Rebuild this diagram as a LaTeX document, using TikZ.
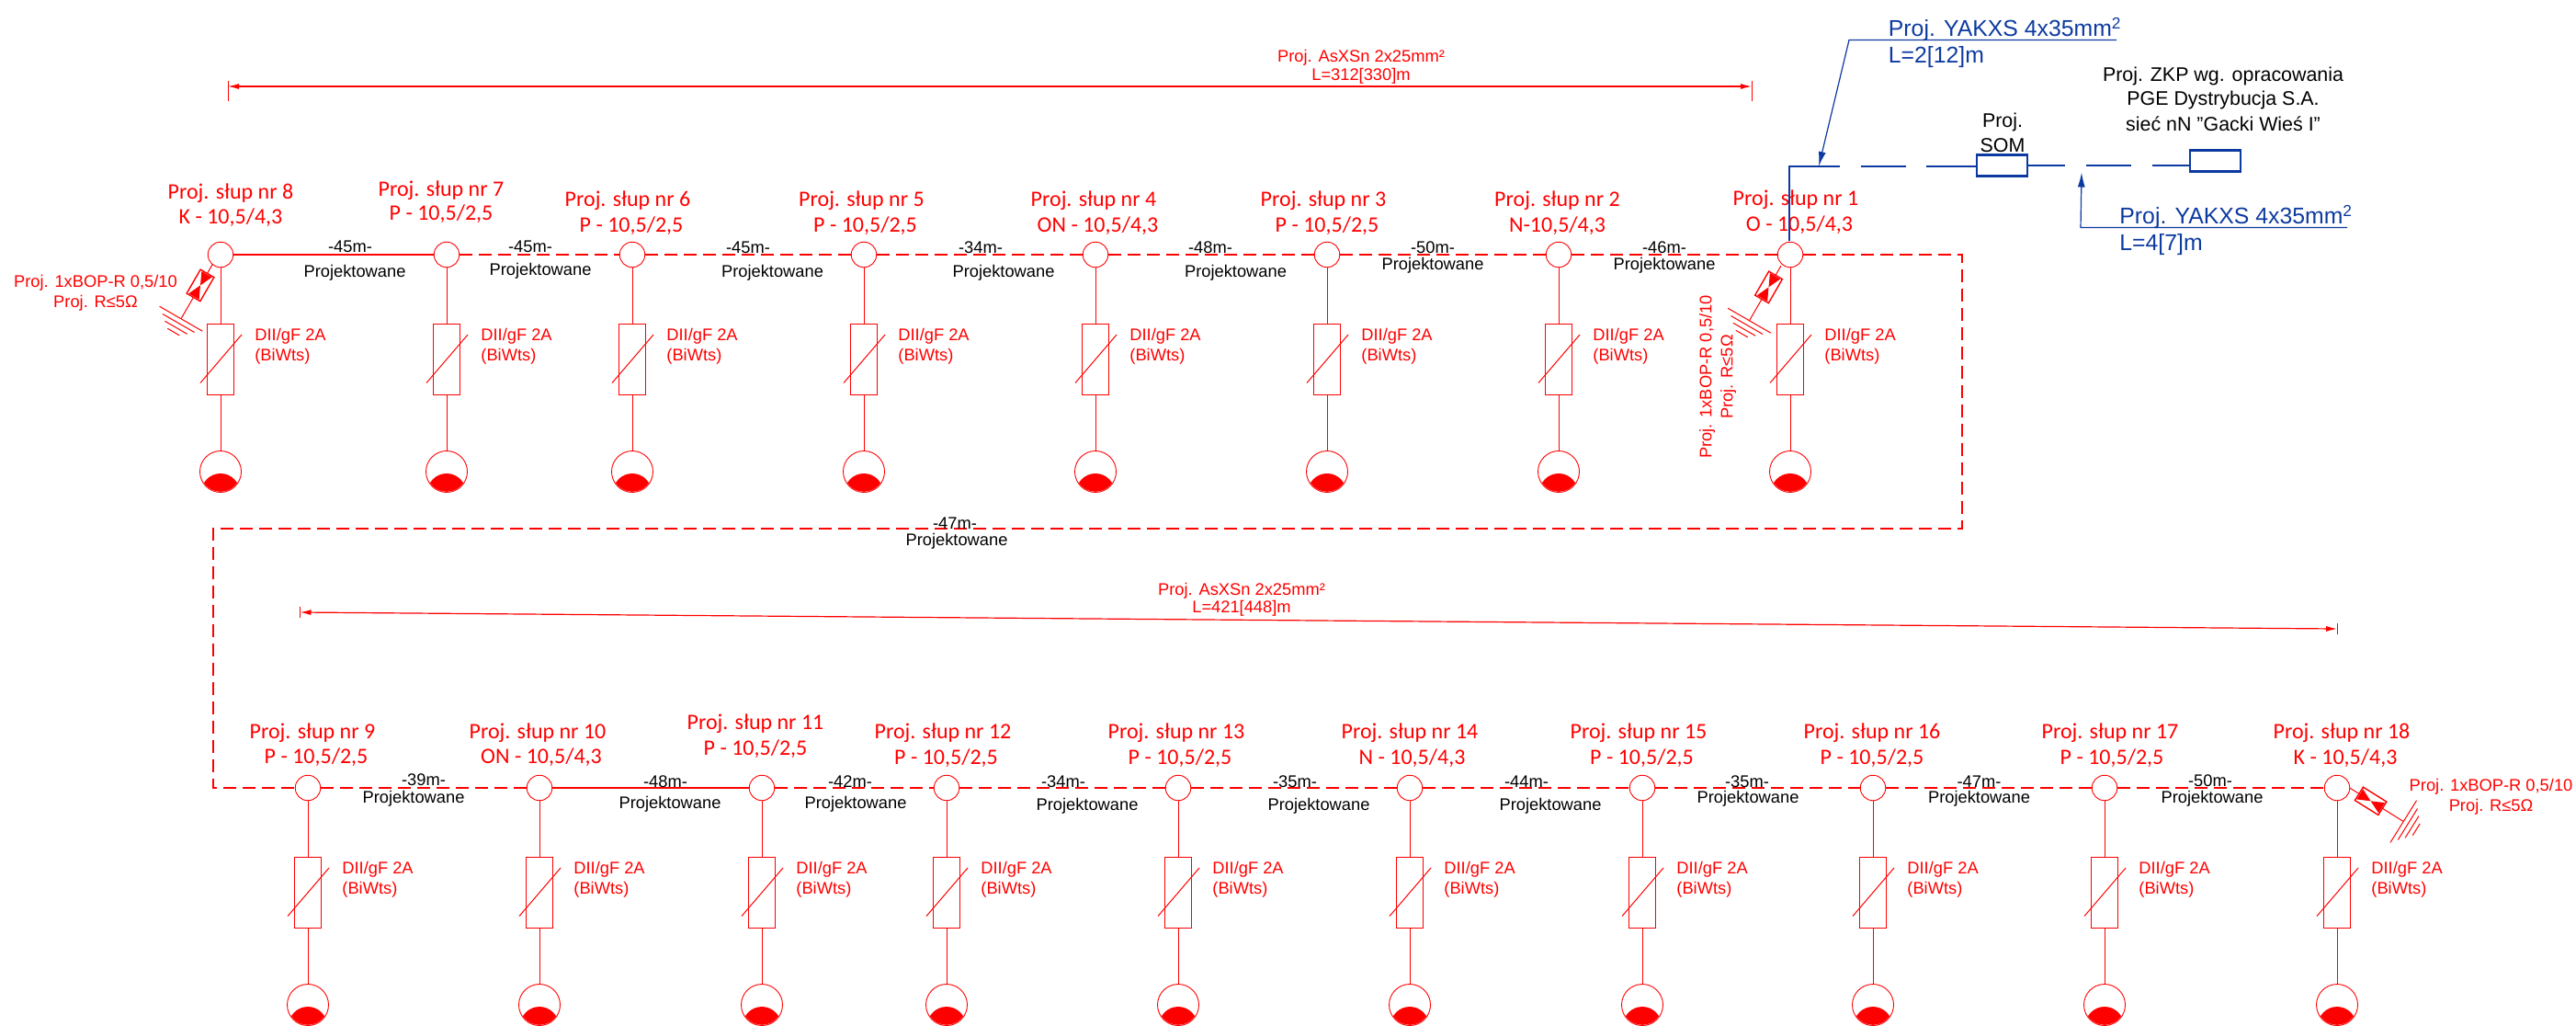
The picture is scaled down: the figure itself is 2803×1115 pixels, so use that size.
\documentclass[tikz,border=0pt]{standalone}
\usepackage{fontspec}
\setmainfont{Liberation Sans}
\newfontfamily\calibfont{Carlito}
\usetikzlibrary{arrows.meta}
\definecolor{bl}{HTML}{0D3AA0}
\definecolor{rd}{HTML}{FF0000}
\tikzset{
  thinred/.style={draw=rd,line width=0.5pt},
  thickred/.style={draw=rd,line width=1.15pt},
  route/.style={draw=rd,line width=1.15pt,dash pattern=on 7pt off 3.5pt},
  polecirc/.style={circle,draw=rd,line width=0.45pt,minimum size=13.75pt,inner sep=0pt,outer sep=0pt},
  lampcirc/.style={circle,draw=rd,line width=0.45pt,minimum size=22.5pt,inner sep=0pt,outer sep=0pt},
  fusebox/.style={rectangle,draw=rd,line width=0.5pt,minimum width=14.25pt,minimum height=38.5pt,inner sep=0pt,outer sep=0pt},
  polelab/.style={text=rd,inner sep=0pt,font=\calibfont\fontsize{12}{14}\selectfont},
  redlab/.style={text=rd,inner sep=0pt,font=\fontsize{9.15}{11}\selectfont},
  fuselab/.style={text=rd,inner sep=0pt,anchor=west,font=\fontsize{9.15}{11}\selectfont},
  spanlab/.style={text=black,inner sep=0pt,font=\fontsize{9.15}{11}\selectfont},
  blacklab/.style={text=black,inner sep=0pt,font=\fontsize{10.7}{13}\selectfont},
  bluelab/.style={text=bl,inner sep=0pt,anchor=west,font=\fontsize{12.4}{15}\selectfont},
  dimlab/.style={text=rd,inner sep=0pt,font=\fontsize{9.15}{11}\selectfont},
  blueline/.style={draw=bl,line width=1.25pt},
  blueleader/.style={draw=bl,line width=0.6pt,-{Latex[length=8pt,width=4pt]}},
  bluebox/.style={rectangle,draw=bl,line width=1.25pt,inner sep=0pt,outer sep=0pt,minimum width=27.5pt,minimum height=11.5pt},
  dimline/.style={draw=rd,line width=0.6pt,{Latex[length=6pt,width=3pt]}-{Latex[length=6pt,width=3pt]}},
}
% #1 number, #2 x, #3 y
\newcommand{\poleset}[3]{%
  \node[polecirc] (p#1) at (#2,#3) {};
  \node[fusebox] (f#1) at (#2,#3+113.5) {};
  \node[lampcirc] (l#1) at (#2,#3+236) {};
  \draw[thinred] (p#1) -- (f#1);
  \draw[thinred] (f#1) -- (l#1);
  \draw[thinred] (#2-22,#3+139.5) -- (#2+23,#3+87);
  \begin{scope}
    \clip (#2,#3+236) circle (10.9pt);
    \fill[rd] (#2,#3+259) circle (10.5pt);
  \end{scope}
  \node[fuselab] (dt#1) at (#2+37,#3+89) {DII/gF 2A};
  \node[fuselab] (db#1) at (#2+37,#3+110.5) {(BiWts)};
}
% #1 name, #2 x, #3 y, #4 rotation
\newcommand{\bopsym}[4]{%
  \begin{scope}[shift={(#2,#3)},rotate=#4]
    \coordinate (#1s) at (0,0);
    \coordinate (#1a) at (12,0);
    \coordinate (#1b) at (42,0);
    \coordinate (#1e) at (69,0);
    \draw[thinred] (#1s) -- (#1a);
    \draw[thinred] (#1b) -- (#1e);
    \draw[draw=rd,line width=0.7pt] (12,-8.5) rectangle (42,8.5);
    \fill[rd] (13,-6.5) -- (27,0) -- (13,6.5) -- cycle;
    \fill[rd] (41,-6.5) -- (27,0) -- (41,6.5) -- cycle;
    \draw[thinred] (69,-27) -- (69,27);
    \draw[thinred] (74.5,-20) -- (74.5,20);
    \draw[thinred] (80,-14) -- (80,14);
    \draw[thinred] (85.5,-7.5) -- (85.5,7.5);
  \end{scope}
}
\begin{document}
\begin{tikzpicture}[x=0.5pt,y=-0.5pt]
\useasboundingbox (0,0) rectangle (2803,1115);
% top row
\poleset{8}{240}{277}
\poleset{7}{486}{277}
\poleset{6}{688}{277}
\poleset{5}{940}{277}
\poleset{4}{1192}{277}
\poleset{3}{1444}{277}
\poleset{2}{1696}{277}
\poleset{1}{1948}{277}
% bottom row
\poleset{9}{335}{857}
\poleset{10}{587}{857}
\poleset{11}{829}{857}
\poleset{12}{1030}{857}
\poleset{13}{1282}{857}
\poleset{14}{1534}{857}
\poleset{15}{1787}{857}
\poleset{16}{2038}{857}
\poleset{17}{2290}{857}
\poleset{18}{2543}{857}
% routes
\draw[thickred] (p8) -- (p7);
\draw[route] (p7) -- (p6);
\draw[route] (p6) -- (p5);
\draw[route] (p5) -- (p4);
\draw[route] (p4) -- (p3);
\draw[route] (p3) -- (p2);
\draw[route] (p2) -- (p1);
\coordinate (c1) at (2135,277);
\coordinate (c2) at (2135,575);
\coordinate (c3) at (232,575);
\coordinate (c4) at (232,857);
\draw[route] (p1) -- (c1) -- (c2) -- (c3) -- (c4) -- (p9);
\draw[route] (p9) -- (p10);
\draw[thickred] (p10) -- (p11);
\draw[route] (p11) -- (p12);
\draw[route] (p12) -- (p13);
\draw[route] (p13) -- (p14);
\draw[route] (p14) -- (p15);
\draw[route] (p15) -- (p16);
\draw[route] (p16) -- (p17);
\draw[route] (p17) -- (p18);
% pole labels
\foreach \n/\x/\ya/\t/\xb/\yb/\b in {
 8/251/210/Proj. słup nr 8/251/237/K - 10{,}5{/}4{,}3,
 7/480/207/Proj. słup nr 7/480/233/P - 10{,}5{/}2{,}5,
 6/683/218/Proj. słup nr 6/687/246/P - 10{,}5{/}2{,}5,
 5/937.5/218/Proj. słup nr 5/941.5/246/P - 10{,}5{/}2{,}5,
 4/1190/218/Proj. słup nr 4/1194.5/246/ON - 10{,}5{/}4{,}3,
 3/1440/218/Proj. słup nr 3/1444/246/P - 10{,}5{/}2{,}5,
 2/1694.5/218/Proj. słup nr 2/1694.5/246/N-10{,}5{/}4{,}3,
 1/1954/217/Proj. słup nr 1/1958/245/O - 10{,}5{/}4{,}3,
 9/340/797/Proj. słup nr 9/344/824/P - 10{,}5{/}2{,}5,
 10/585/797/Proj. słup nr 10/589/824/ON - 10{,}5{/}4{,}3,
 11/822/787/Proj. słup nr 11/822/815/P - 10{,}5{/}2{,}5,
 12/1026/797/Proj. słup nr 12/1029.5/825/P - 10{,}5{/}2{,}5,
 13/1280/797/Proj. słup nr 13/1284/825/P - 10{,}5{/}2{,}5,
 14/1534/797/Proj. słup nr 14/1536.5/825/N - 10{,}5{/}4{,}3,
 15/1783/797/Proj. słup nr 15/1786.5/825/P - 10{,}5{/}2{,}5,
 16/2037/797/Proj. słup nr 16/2037/825/P - 10{,}5{/}2{,}5,
 17/2296/797/Proj. słup nr 17/2298/825/P - 10{,}5{/}2{,}5,
 18/2548/797/Proj. słup nr 18/2552/825/K - 10{,}5{/}4{,}3}
 { \node[polelab] (la\n) at (\x,\ya) {\t}; \node[polelab] (lb\n) at (\xb,\yb) {\b}; }
% span labels
\foreach \k/\x/\y/\t/\xb/\yb in {
 a/381/268/-45m-/386/297, b/577/268/-45m-/588/295, c/814/269/-45m-/840.5/297,
 d/1067/269/-34m-/1092/297, e/1317/269/-48m-/1344.5/297, f/1559/269/-50m-/1559/289,
 g/1811/269/-46m-/1811/289, h/1039/569/-47m-/1041/589,
 i/461/848/-39m-/450/869, j/724/850/-48m-/729/875, k/925/850/-42m-/931/875,
 l/1157/850/-34m-/1183/877, m/1409/850/-35m-/1435/877, n/1661/850/-44m-/1687/877,
 o/1901/850/-35m-/1902/869, q/2153.5/850/-47m-/2153.5/869, r/2405/849/-50m-/2407/869}
 { \node[spanlab] (sa\k) at (\x,\y) {\t}; \node[spanlab] (sb\k) at (\xb,\yb) {Projektowane}; }
% BOP
\bopsym{ba}{231.5}{287}{240}
\bopsym{bb}{1938}{289}{240}
\bopsym{bc}{2556.7}{857}{-32}
\node[redlab] (bop8a) at (104,308) {Proj. 1xBOP-R 0,5/10};
\node[redlab] (bop8b) at (104,330) {Proj. R≤5Ω};
\node[redlab,rotate=90] (bop1a) at (1857.5,410) {Proj. 1xBOP-R 0,5/10};
\node[redlab,rotate=90] (bop1b) at (1880.5,410) {Proj. R≤5Ω};
\node[redlab] (bop18a) at (2710.5,856) {Proj. 1xBOP-R 0,5/10};
\node[redlab] (bop18b) at (2710.5,878) {Proj. R≤5Ω};
% dimensions
\coordinate (da) at (248,94);
\coordinate (db) at (1906,94);
\draw[dimline] (da) -- (db);
\draw[thinred] (248,88) -- (248,110);
\draw[thinred] (1906,88) -- (1906,110);
\node[dimlab] (dt1) at (1481,63) {Proj. AsXSn 2x25mm²};
\node[dimlab] (dt2) at (1481,83) {L=312[330]m};
\coordinate (dc) at (326.5,666);
\coordinate (dd) at (2543,684);
\draw[dimline] (dc) -- (dd);
\draw[thinred] (326.5,660) -- (326.5,672);
\draw[thinred] (2543,678) -- (2543,690);
\node[dimlab] (dt3) at (1351,643) {Proj. AsXSn 2x25mm²};
\node[dimlab] (dt4) at (1351,662) {L=421[448]m};
% blue
\node[bluebox] (som) at (2178.5,180) {};
\node[bluebox] (zkp) at (2410.5,175) {};
\coordinate (ba0) at (1947,262);
\coordinate (ba1) at (1947,181);
\coordinate (ba2) at (2151,181);
\draw[blueline,dash pattern=on 68pt off 11.5pt on 24.5pt off 11pt on 30pt] (ba0) -- (ba1) -- (ba2);
\draw[blueline,dash pattern=on 20.5pt off 11.5pt on 24.5pt off 11.5pt on 20.5pt] (som.east |- 0,180) -- (zkp.west |- 0,180);
\coordinate (le1) at (2303,43.5);
\coordinate (le2) at (2012,43.5);
\coordinate (le3) at (1979,181);
\draw[blueleader] (le1) -- (le2) -- (le3);
\coordinate (lf1) at (2554,247.5);
\coordinate (lf2) at (2264,247.5);
\coordinate (lf3) at (2265,187.5);
\draw[blueleader] (lf1) -- (lf2) -- (lf3);
\node[bluelab] (y1) at (2054.5,32) {Proj. YAKXS 4x35mm\textsuperscript{2}};
\node[bluelab] (y2) at (2054.5,62) {L=2[12]m};
\node[bluelab] (y3) at (2306,236) {Proj. YAKXS 4x35mm\textsuperscript{2}};
\node[bluelab] (y4) at (2306,266) {L=4[7]m};
\node[blacklab] (s1) at (2179,133) {Proj.};
\node[blacklab] (s2) at (2179,158) {SOM};
\node[blacklab] (z1) at (2419,83) {Proj. ZKP wg. opracowania};
\node[blacklab] (z2) at (2419,109) {PGE Dystrybucja S.A.};
\node[blacklab] (z3) at (2419,135) {sieć nN "Gacki Wieś I"};
\end{tikzpicture}
\end{document}
